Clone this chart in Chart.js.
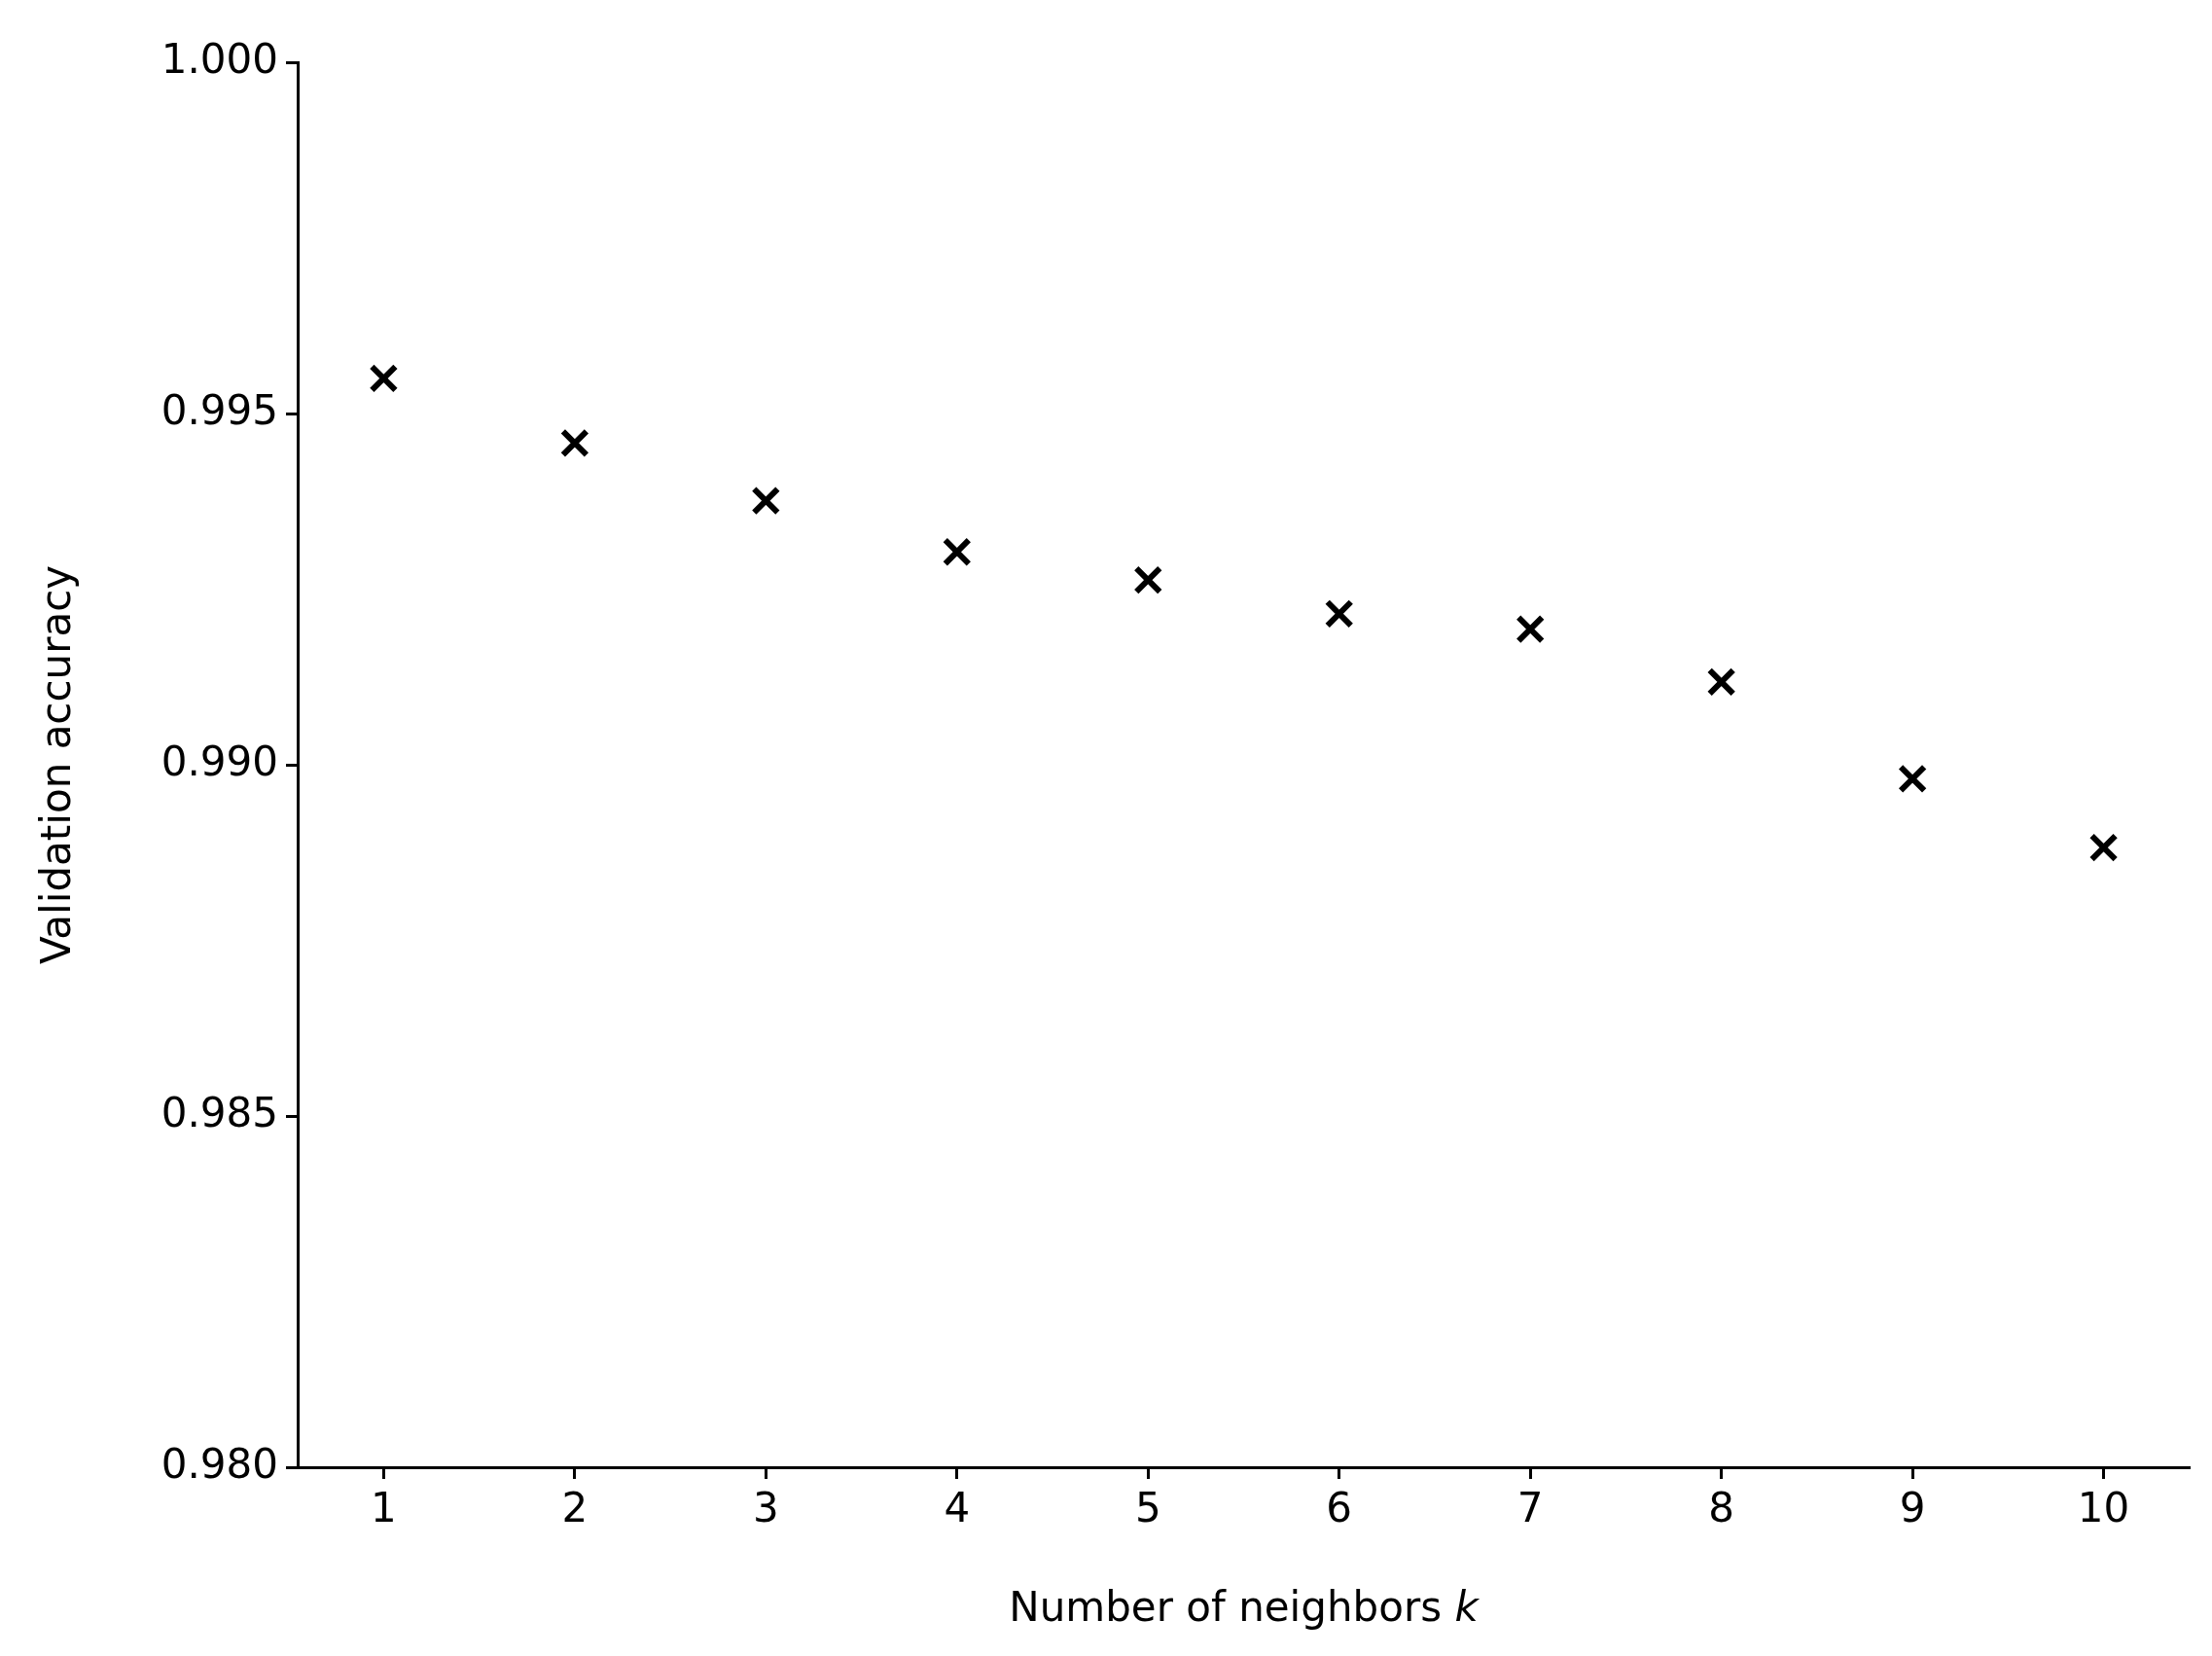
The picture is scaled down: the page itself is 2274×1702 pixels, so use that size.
<!DOCTYPE html>
<html>
<head>
<meta charset="utf-8">
<script src="https://cdn.jsdelivr.net/npm/chart.js@4"></script>
<style>
  html, body { margin: 0; padding: 0; background: #fff; }
  #wrap { width: 2274px; height: 1702px; }
</style>
</head>
<body>
<div id="wrap"><canvas id="chart" width="2274" height="1702"></canvas></div>
<script>
// 값은 그림에서 읽어옴
const kValues = [1, 2, 3, 4, 5, 6, 7, 8, 9, 10];
const accuracy = [0.99550, 0.99458, 0.99376, 0.99303, 0.99263, 0.99215, 0.99193, 0.99118, 0.98980, 0.98882];
const yTicks = [0.980, 0.985, 0.990, 0.995, 1.000];

const FONT = "'DejaVu Sans', sans-serif";
const SIZE = 42;

// x축 제목: k 만 이탤릭
const xTitlePlugin = {
  id: "xTitle",
  afterDraw(chart) {
    const ctx = chart.ctx;
    const area = chart.chartArea;
    const cx = (area.left + area.right) / 2;
    const y = 1655;
    const a = "Number of neighbors ";
    ctx.save();
    ctx.fillStyle = "#000";
    ctx.textBaseline = "middle";
    ctx.font = SIZE + "px " + FONT;
    const wa = ctx.measureText(a).width;
    ctx.font = "italic " + SIZE + "px " + FONT;
    const wk = ctx.measureText("k").width;
    let x = cx - (wa + wk) / 2;
    ctx.font = SIZE + "px " + FONT;
    ctx.fillText(a, x, y);
    ctx.font = "italic " + SIZE + "px " + FONT;
    ctx.fillText("k", x + wa, y);
    ctx.restore();
  },
};

new Chart(document.getElementById("chart"), {
  type: "scatter",
  data: {
    datasets: [
      {
        data: kValues.map((k, i) => ({ x: k, y: accuracy[i] })),
        pointStyle: "crossRot",
        pointRadius: 17,
        pointBorderWidth: 6,
        borderColor: "#000",
        backgroundColor: "#000",
      },
    ],
  },
  options: {
    responsive: false,
    animation: false,
    layout: { padding: { top: 64, right: 10, left: 0, bottom: 0 } },
    plugins: { legend: { display: false }, tooltip: { enabled: false } },
    scales: {
      x: {
        type: "linear",
        min: 0.55,
        max: 10.45,
        afterBuildTicks: (s) => { s.ticks = kValues.map((v) => ({ value: v })); },
        afterFit: (s) => { s.height = 194; },
        grid: { drawOnChartArea: false, color: "#000", tickLength: 12, tickWidth: 3 },
        border: { color: "#000", width: 3 },
        ticks: { color: "#000", font: { family: FONT, size: SIZE }, padding: 8, maxRotation: 0 },
      },
      y: {
        min: 0.98,
        max: 1.0,
        afterBuildTicks: (s) => { s.ticks = yTicks.map((v) => ({ value: v })); },
        afterFit: (s) => { s.width = 306; },
        grid: { drawOnChartArea: false, color: "#000", tickLength: 12, tickWidth: 3 },
        border: { color: "#000", width: 3 },
        ticks: {
          color: "#000",
          font: { family: FONT, size: SIZE },
          padding: 8,
          callback: (v) => v.toFixed(3),
        },
        title: {
          display: true,
          text: "Validation accuracy",
          color: "#000",
          font: { family: FONT, size: SIZE },
          padding: { top: 36, bottom: 14 },
        },
      },
    },
  },
  plugins: [xTitlePlugin],
});
</script>
</body>
</html>
